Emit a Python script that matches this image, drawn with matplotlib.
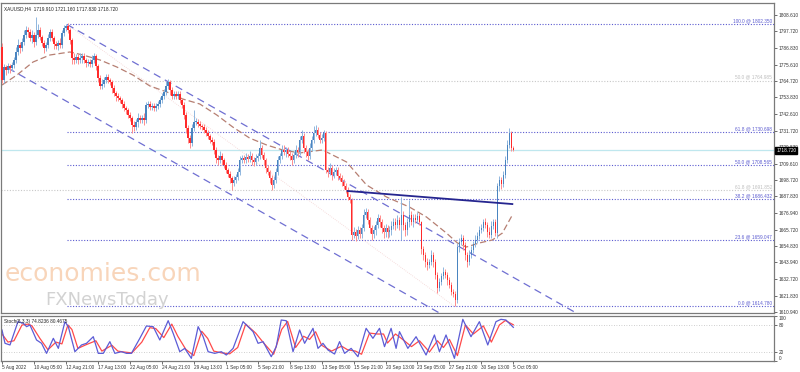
import matplotlib
matplotlib.use('Agg')
import matplotlib.pyplot as plt
import matplotlib.transforms as mtrans
import numpy as np

plt.rcParams['font.family'] = ['Liberation Sans', 'DejaVu Sans']

# ---------------- data ----------------
title = "XAUUSD,H4  1719.910 1721.160 1717.830 1718.720"
stoch_title = "Stoch(8,3,3) 74.8236 80.4675"

first_open = 1787.3
close = [
 1765.4, 1774.0, 1772.0, 1774.7, 1773.3, 1775.3, 1778.7, 1784.0, 1788.6, 1786.6, 1790.6, 1795.3, 1798.6, 1797.3, 1793.3, 1795.3,
 1790.6, 1795.3, 1798.6, 1794.0, 1790.0, 1786.6, 1788.6, 1793.3, 1797.3, 1793.3, 1789.3, 1788.0, 1790.0, 1788.6, 1796.6, 1800.0,
 1801.3, 1798.6, 1792.0, 1780.0, 1778.7, 1780.7, 1778.7, 1780.0, 1781.3, 1778.7, 1776.7, 1777.3, 1776.0, 1778.7, 1781.3, 1774.7,
 1766.7, 1761.4, 1762.7, 1765.4, 1767.3, 1765.4, 1764.0, 1760.0, 1756.7, 1754.7, 1753.4, 1752.0, 1749.4, 1746.7, 1745.4, 1742.1,
 1740.1, 1735.4, 1734.1, 1737.4, 1740.1, 1738.7, 1740.1, 1738.7, 1748.7, 1749.4, 1747.4, 1748.0, 1746.7, 1748.0, 1749.4, 1752.0,
 1754.7, 1757.4, 1761.4, 1764.0, 1758.7, 1754.7, 1756.0, 1754.7, 1756.0, 1752.0, 1748.7, 1742.1, 1733.4, 1726.7, 1723.4, 1733.4,
 1737.4, 1737.4, 1736.1, 1734.7, 1734.1, 1732.1, 1730.1, 1728.1, 1725.4, 1724.1, 1718.8, 1713.4, 1712.1, 1714.8, 1712.1, 1708.8,
 1705.4, 1702.8, 1700.1, 1696.8, 1698.8, 1700.8, 1704.1, 1712.1, 1713.4, 1712.1, 1714.1, 1712.8, 1714.8, 1712.1, 1710.8, 1713.4,
 1714.8, 1720.1, 1715.4, 1712.1, 1706.8, 1704.1, 1700.1, 1695.5, 1698.8, 1704.1, 1712.1, 1714.8, 1718.8, 1717.4, 1718.8, 1716.1,
 1714.8, 1712.1, 1715.4, 1718.8, 1717.4, 1725.4, 1728.1, 1720.1, 1717.4, 1714.8, 1720.1, 1725.4, 1730.1, 1732.1, 1728.7, 1725.4,
 1726.7, 1730.1, 1705.4, 1704.1, 1706.8, 1702.1, 1704.1, 1705.4, 1701.5, 1700.1, 1697.5, 1694.8, 1692.2, 1687.5, 1685.5, 1662.2,
 1664.2, 1661.5, 1665.5, 1662.9, 1666.8, 1675.5, 1677.5, 1672.2, 1666.8, 1662.9, 1665.5, 1668.8, 1673.5, 1670.8, 1666.8, 1664.2,
 1666.8, 1664.2, 1665.5, 1668.2, 1670.8, 1668.8, 1672.2, 1668.8, 1675.5, 1668.8, 1665.5, 1670.8, 1675.5, 1670.8, 1673.5, 1672.2,
 1674.8, 1670.8, 1652.8, 1648.9, 1644.2, 1642.2, 1644.2, 1648.9, 1644.2, 1635.6, 1626.9, 1630.9, 1634.9, 1637.6, 1635.6, 1632.2,
 1628.9, 1624.3, 1622.9, 1618.9, 1654.2, 1657.5, 1660.2, 1655.5, 1648.9, 1644.2, 1648.9, 1652.2, 1656.2, 1658.9, 1661.5, 1665.5,
 1666.8, 1670.8, 1668.8, 1664.2, 1662.2, 1668.2, 1670.8, 1663.5, 1694.8, 1698.8, 1696.1, 1702.1, 1712.1, 1722.1, 1730.1, 1719.91,
 1718.72]

upper_wick = [
 3, 2, 1.5, 2, 1.5, 2, 2, 3, 4, 2, 3, 3, 3, 2, 2, 3,
 2, 12, 4, 2, 1.5, 2, 2, 3, 2, 2, 1.5, 2, 2, 3, 2, 2,
 1, 2, 1.5, 1.5, 3, 2, 2, 3, 2, 2, 1.5, 2, 2, 3, 2, 1.5,
 1.5, 2, 3, 2, 2, 2, 1.5, 1.5, 2, 1.5, 2, 1.5, 1.5, 2, 1.5, 1.5,
 2, 1.5, 3, 2, 3, 2, 2, 3, 2, 2, 2, 2, 2, 2, 2, 2,
 2, 2, 3, 2, 1.5, 2, 2, 2, 2, 2, 1.5, 2, 2, 2, 2, 3,
 8, 3, 2, 2, 1.5, 2, 2, 2, 1.5, 2, 2, 2, 2, 3, 2, 1.5,
 2, 1.5, 2, 1.5, 3, 2, 3, 3, 2, 2, 3, 2, 3, 2, 2, 3,
 2, 5, 2, 2, 1.5, 2, 1.5, 2, 3, 3, 3, 2, 3, 3, 2, 2,
 2, 2, 3, 3, 2, 3, 4, 2, 2, 2, 3, 3, 4.6, 3, 2, 2,
 3, 2, 1, 2, 3, 2, 3, 2, 2, 2, 2, 2, 2, 2, 2, 1,
 3, 2, 3, 2, 3, 4, 3, 2, 2, 2, 3, 3, 3, 2, 2, 2,
 3, 2, 3, 3, 3, 3, 3, 2, 12, 3, 2, 3, 10, 3, 3, 3,
 3, 2, 1, 2, 2, 3, 2, 3, 2, 2, 2, 3, 2, 3, 2, 2,
 2, 2, 2, 2, 3, 3, 3, 2, 2, 2, 3, 3, 2, 3, 3, 3,
 3, 2, 3, 2, 3, 3, 2, 2, 2, 3, 2, 3, 3, 3, 3.3, 1,
 1.25]

lower_wick = [
 2, 2, 3, 2, 3, 2, 2, 2, 2, 3, 2, 2, 2, 3, 2, 3,
 3, 2, 2, 2, 2, 3, 2, 2, 2, 2, 3, 2, 3, 2, 2, 2,
 2, 2, 3, 4, 3, 2, 3, 2, 3, 2, 3, 2, 2, 2, 2, 3,
 3, 2, 2, 2, 2, 2, 2, 3, 2, 3, 2, 2, 3, 2, 3, 2,
 2, 5.3, 3, 2, 3, 2, 2, 3, 2, 2, 2, 2, 2, 2, 2, 2,
 2, 2, 2, 2, 3, 2, 2, 2, 2, 2, 2, 3, 3, 3, 3.3, 2,
 2, 2, 2, 2, 2, 2, 2, 2, 2, 2, 3, 3, 3, 2, 3, 2,
 2, 2, 3, 4.6, 2, 2, 2, 2, 2, 2, 2, 2, 2, 3, 3, 2,
 2, 2, 2, 3, 3, 2, 3, 3.3, 2, 2, 2, 2, 2, 2, 3, 2,
 3, 3, 2, 2, 3, 2, 2, 3, 3, 3, 2, 2, 2, 2, 2, 2,
 2, 2, 2, 3, 2, 3, 2, 2, 3, 2, 3, 2, 2, 2, 2, 3,
 2, 3, 2, 3, 3, 2, 2, 3, 3, 4, 3, 3, 2, 3, 3, 4,
 3, 4, 3, 3, 2, 3, 2, 3, 9.9, 3, 4, 3, 3, 2, 3, 2,
 2, 2, 3, 3, 3, 3, 2, 2, 3, 3, 3.3, 2, 2, 2, 2, 3,
 2, 2, 2, 4.1, 2, 3, 2, 3, 3, 3, 2, 2, 2, 2, 2, 2,
 2, 2, 2, 3, 2, 2, 2, 2, 3, 3, 3, 2, 2, 2, 2, 2,
 0.89]

time_labels = ["5 Aug 2022", "10 Aug 05:00", "12 Aug 21:00", "17 Aug 13:00", "22 Aug 05:00",
               "24 Aug 21:00", "29 Aug 13:00", "1 Sep 05:00", "5 Sep 21:00", "8 Sep 13:00",
               "13 Sep 05:00", "15 Sep 21:00", "20 Sep 13:00", "23 Sep 05:00", "27 Sep 21:00",
               "30 Sep 13:00", "5 Oct 05:00"]
time_label_bars = [0, 16, 32, 48, 64, 80, 96, 112, 128, 144, 160, 176, 192, 208, 224, 240, 256]

price_ticks = [1808.610, 1797.720, 1786.830, 1775.610, 1764.720, 1753.830, 1742.610, 1731.720,
               1720.830, 1709.610, 1698.720, 1687.830, 1676.940, 1665.720, 1654.830, 1643.940,
               1632.720, 1621.830, 1610.940]
last_price = 1718.720

fib_levels = [100.0, 61.8, 50.0, 38.2, 23.6, 0.0]
fib_prices = [1802.350, 1730.698, 1708.565, 1686.432, 1659.047, 1614.780]
fib_anchor_bars = [32.5, 226.5]
old_fib_levels = [50.0, 61.8]
old_fib_prices = [1764.985, 1691.852]

channel_upper = ([32.5, 287.5], [1802.35, 1610.3])
channel_lower = ([3.0, 219.0], [1773.3, 1610.3])
neckline = ([173.0, 255.5], [1691.5, 1682.8])

ma_bars = [0, 7.5, 15.5, 24, 34, 40.5, 49, 57.5, 65.5, 74, 82.5, 90.5, 99, 107.5, 115.5, 124,
           132.5, 140.5, 149, 160.5, 172.5, 182.5, 192.5, 204, 212.5, 222.5, 228, 232.5, 239,
           245.5, 250.5, 255.5]
ma_vals = [1762.0, 1768.7, 1777.3, 1782.0, 1784.0, 1782.0, 1778.7, 1774.0, 1768.7, 1761.4,
           1757.4, 1752.7, 1749.4, 1742.1, 1734.1, 1726.7, 1722.1, 1718.8, 1716.8, 1718.8,
           1710.8, 1695.5, 1687.5, 1680.8, 1674.2, 1663.5, 1656.9, 1654.2, 1656.9, 1658.9,
           1663.5, 1675.5]

k_bars = [0, 1.5, 4, 8, 10.7, 12.3, 14, 17.3, 19.8, 22.3, 25.7, 28.2, 31.5, 33.2, 36.5, 39.8,
          42.3, 45.7, 48.2, 50.7, 54, 56.5, 59.8, 62.3, 64.8, 69, 72.3, 75.7, 79, 83.2, 85.7, 89,
          91.5, 94.8, 98.2, 100.7, 103.2, 106.5, 109.8, 112.3, 115.7, 120.7, 125.7, 128.2, 130.7,
          134.8, 137.3, 139.8, 142.3, 145.7, 149, 151.5, 155.7, 158.2, 160.7, 163.2, 166.5, 169,
          171.5, 174.8, 178.2, 182.3, 185.7, 189, 191.5, 194.8, 197.3, 199, 203.2, 207.3, 212.3,
          216.5, 219, 222.3, 226.5, 230.7, 234.8, 239, 243.2, 247.3, 249.8, 252.3, 256]
k_vals = [68.9, 39.3, 35.6, 87.4, 83.7, 76.3, 80.0, 46.7, 39.3, 17.0, 50.4, 28.1, 87.4, 76.3,
          20.7, 35.6, 39.3, 54.0, 17.0, 17.0, 43.0, 17.0, 20.7, 17.0, 17.0, 50.4, 77.8, 76.3,
          46.7, 89.6, 61.5, 20.7, 28.1, 5.9, 76.3, 54.0, 20.7, 17.0, 20.7, 13.3, 28.1, 87.4,
          65.2, 39.3, 43.0, 9.6, 31.9, 91.1, 89.6, 20.7, 68.9, 39.3, 72.6, 28.1, 39.3, 24.4,
          15.5, 43.0, 17.0, 28.1, 9.6, 72.6, 50.4, 72.6, 31.9, 72.6, 28.1, 65.2, 28.1, 54.0,
          13.3, 57.8, 20.7, 57.8, 5.9, 92.6, 54.0, 87.4, 35.6, 87.4, 92.6, 91.1, 74.8]

d_bars = [0, 3, 6, 10, 13, 15, 19, 23, 27, 30, 33, 35, 38, 42, 47, 50, 55, 58, 61, 65, 70, 74,
          77, 81, 85, 88, 92, 96, 100, 103, 106, 110, 114, 118, 122, 127, 131, 136, 140, 143,
          147, 151, 154, 157, 160, 165, 170, 173, 177, 180, 184, 188, 191, 193, 197, 200, 205,
          209, 214, 218, 221, 224, 228, 232, 236, 241, 245, 249, 252, 256]
d_vals = [60, 42, 45, 80, 82, 78, 50, 25, 42, 38, 80, 70, 28, 36, 45, 22, 35, 22, 20, 18, 42,
          74, 72, 52, 82, 55, 26, 12, 66, 50, 22, 18, 16, 30, 82, 62, 40, 15, 70, 88, 30, 55,
          48, 65, 35, 22, 33, 25, 22, 15, 62, 60, 60, 40, 60, 50, 32, 45, 20, 45, 30, 48, 12,
          80, 60, 78, 42, 80, 90, 80.5]

# ---------------- styles ----------------
BULL = '#4a85c0'
BEAR = '#ff2a2a'
BULL_W = '#8fb6de'
BEAR_W = '#ff8c8c'
FIB_C = '#5b5bd0'
GREY_C = '#c8c8c8'
CHAN_C = '#6f6fd2'
MA_C = '#b67f72'
NECK_C = '#25258f'
TXT_C = '#333333'
FS = 3.4

W, H = 800, 372
fig = plt.figure(figsize=(W / 100, H / 100), dpi=100)
fig.patch.set_facecolor('white')


def rect(l, t, r, b):
    return [l / W, 1 - b / H, (r - l) / W, (b - t) / H]


ax = fig.add_axes(rect(1, 3, 774, 313))
ax2 = fig.add_axes(rect(1, 316, 774, 361))

XMIN, XMAX = -0.5, 386.5
YMIN, YMAX = 1610.3, 1816.6

closes = np.array(close, dtype=float)
opens = np.concatenate([[first_open], closes[:-1]])
highs = np.maximum(opens, closes) + np.array(upper_wick)
lows = np.minimum(opens, closes) - np.array(lower_wick)
idx = np.arange(len(closes))
up = closes >= opens

# watermark
fig.text(5 / W, 1 - 281 / H, 'economies.com', fontsize=18, color='#f8d5ba',
         family='DejaVu Sans', zorder=0)
fig.text(45 / W, 1 - 305 / H, 'FXNewsToday', fontsize=13, color='#d2d2d2',
         family='DejaVu Sans', zorder=0)

# current price line
ax.axhline(last_price, color='#bfe7ee', lw=0.9, zorder=1)

# fib levels
for lev, p in zip(old_fib_levels, old_fib_prices):
    ax.hlines(p, XMIN, XMAX, colors=GREY_C, linestyles=(0, (1, 1.5)), lw=0.8, zorder=1)
    ax.text(385.5, p + 0.5, f'{lev:.1f} @ {p:.3f}', fontsize=FS, color='#bdbdbd',
            ha='right', va='bottom', zorder=3)
for lev, p in zip(fib_levels, fib_prices):
    ax.hlines(p, fib_anchor_bars[0], XMAX, colors=FIB_C, linestyles=(0, (1, 1.5)), lw=0.8, zorder=1)
    ax.text(385.5, p + 0.5, f'{lev:.1f} @ {p:.3f}', fontsize=FS, color=FIB_C,
            ha='right', va='bottom', zorder=3)
ax.plot(fib_anchor_bars, [fib_prices[0], fib_prices[-1]], color='#f3d3d3',
        ls=(0, (1, 1.5)), lw=0.6, zorder=1)

# channel
ax.plot(*channel_upper, color=CHAN_C, ls=(0, (6, 4)), lw=0.9, zorder=2)
ax.plot(*channel_lower, color=CHAN_C, ls=(0, (6, 4)), lw=0.9, zorder=2)

# MA
ax.plot(ma_bars, ma_vals, color=MA_C, ls=(0, (5, 2.5)), lw=0.9, zorder=2)

# candles
ax.vlines(idx, lows, highs, colors=np.where(up, BULL_W, BEAR_W), lw=0.7, zorder=3)
ax.bar(idx, np.maximum(np.abs(closes - opens), 0.5), bottom=np.minimum(opens, closes),
       width=0.8, color=np.where(up, BULL, BEAR), linewidth=0, zorder=4)

# neckline
ax.plot(*neckline, color=NECK_C, lw=1.3, zorder=5)

ax.set_xlim(XMIN, XMAX)
ax.set_ylim(YMIN, YMAX)
ax.yaxis.tick_right()
ax.set_yticks(price_ticks)
ax.set_yticklabels([f'{v:.3f}' for v in price_ticks])
ax.tick_params(axis='y', labelsize=FS, length=2, width=0.5, pad=1.5, colors=TXT_C)
ax.set_xticks([])
for s in ax.spines.values():
    s.set_color('#7a7a7a')
    s.set_linewidth(0.9)

# current price box
trans = mtrans.blended_transform_factory(ax.transAxes, ax.transData)
ax.text(1.003, last_price, f'{last_price:.3f}', transform=trans, fontsize=FS, color='white',
        ha='left', va='center', zorder=10, clip_on=False,
        bbox=dict(boxstyle='square,pad=0.2', fc='black', ec='black'))

ax.text(0.004, 0.99, title, transform=ax.transAxes, fontsize=FS, color='#222222',
        ha='left', va='top')

# stochastic
ax2.axhline(80, color='#c0c0c0', ls=(0, (1, 2)), lw=0.6)
ax2.axhline(20, color='#c0c0c0', ls=(0, (1, 2)), lw=0.6)
ax2.plot(d_bars, d_vals, color='#ff4a4a', lw=0.9)
ax2.plot(k_bars, k_vals, color='#5c5cd6', lw=0.9)
ax2.set_xlim(XMIN, XMAX)
ax2.set_ylim(0, 100)
ax2.yaxis.tick_right()
ax2.set_yticks([0, 20, 80, 100])
ax2.set_yticklabels(['0', '20', '80', '100'])
ax2.tick_params(axis='y', labelsize=FS, length=2, width=0.5, pad=1.5, colors=TXT_C)
labs = ax2.get_yticklabels()
labs[0].set_va('bottom')
labs[3].set_va('top')
ax2.set_xticks(time_label_bars)
ax2.set_xticklabels(time_labels, ha='left')
ax2.tick_params(axis='x', labelsize=FS, length=2, width=0.5, pad=1.2, colors=TXT_C)
for s in ax2.spines.values():
    s.set_color('#7a7a7a')
    s.set_linewidth(0.9)
ax2.text(0.004, 0.93, stoch_title, transform=ax2.transAxes, fontsize=FS, color='#222222',
         ha='left', va='top')

fig.savefig('out.png', dpi=100, facecolor='white')
